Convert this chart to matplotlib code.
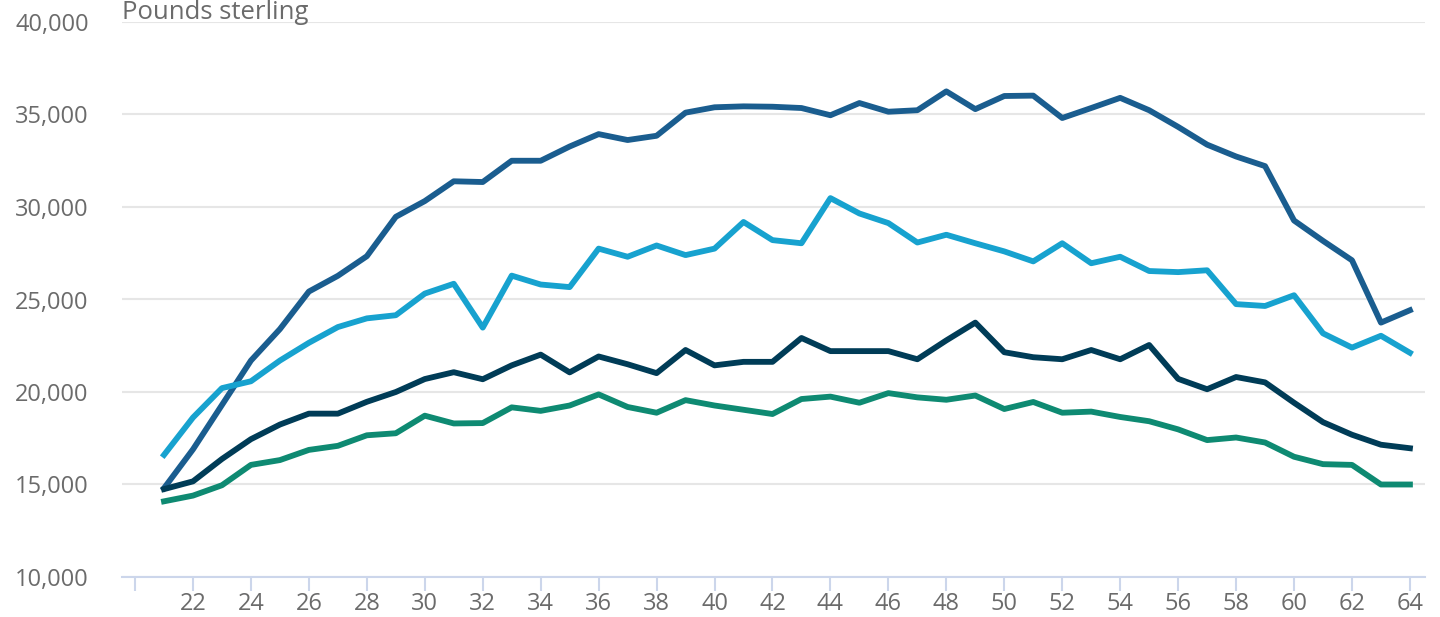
import matplotlib.pyplot as plt
from matplotlib.ticker import FuncFormatter

# Age in years
ages = list(range(21, 65))

# Four earnings series, pounds sterling
series_a = [14800, 16900, 19300, 21700, 23400, 25430, 26280, 27340, 29470, 30320,
            31390, 31350, 32500, 32500, 33270, 33940, 33620, 33850, 35100, 35390,
            35440, 35420, 35350, 34960, 35620, 35150, 35230, 36250, 35290, 36000,
            36020, 34810, 35350, 35900, 35230, 34330, 33370, 32730, 32210, 29270,
            28170, 27120, 23750, 24420]
series_b = [16600, 18620, 20210, 20580, 21700, 22660, 23510, 23980, 24150, 25320,
            25850, 23480, 26290, 25810, 25670, 27750, 27310, 27920, 27400, 27750,
            29190, 28210, 28040, 30480, 29650, 29130, 28080, 28500, 28040, 27600,
            27060, 28040, 26960, 27310, 26540, 26480, 26580, 24750, 24650, 25230,
            23170, 22400, 23040, 22120]
series_c = [14750, 15170, 16380, 17450, 18240, 18830, 18830, 19470, 20000, 20700,
            21070, 20690, 21440, 22020, 21060, 21920, 21500, 21020, 22270, 21440,
            21630, 21630, 22920, 22210, 22210, 22210, 21770, 22790, 23750, 22150,
            21880, 21770, 22270, 21770, 22540, 20710, 20150, 20810, 20520, 19420,
            18370, 17690, 17150, 16960]
series_d = [14090, 14400, 14960, 16060, 16320, 16870, 17090, 17660, 17770, 18720,
            18300, 18320, 19170, 18980, 19270, 19870, 19190, 18880, 19560, 19270,
            19040, 18810, 19620, 19750, 19420, 19940, 19710, 19580, 19810, 19080,
            19460, 18880, 18940, 18650, 18420, 17980, 17400, 17540, 17270, 16500,
            16100, 16060, 15000, 15000]

x_ticks = list(range(20, 65, 2))
x_labels = ['' if t == 20 else str(t) for t in x_ticks]
y_ticks = [10000, 15000, 20000, 25000, 30000, 35000, 40000]

label_color = '#6b6b6b'
plt.rcParams['font.family'] = ['Open Sans', 'DejaVu Sans']

fig = plt.figure(figsize=(14.4, 6.17), dpi=100)
ax = fig.add_axes([122 / 1440, 40 / 617, 1303 / 1440, 555 / 617])

ax.plot(ages, series_a, color='#1a5d8f', lw=4.2, solid_joinstyle='round', zorder=3)
ax.plot(ages, series_b, color='#17a2cf', lw=4.2, solid_joinstyle='round', zorder=3)
ax.plot(ages, series_c, color='#003c57', lw=4.2, solid_joinstyle='round', zorder=3)
ax.plot(ages, series_d, color='#0e8a72', lw=4.2, solid_joinstyle='round', zorder=3)

ax.set_xlim(19.55, 64.52)
ax.set_ylim(10000, 40000)
ax.set_xticks(x_ticks)
ax.set_xticklabels(x_labels)
ax.set_yticks(y_ticks)
ax.yaxis.set_major_formatter(FuncFormatter(lambda v, p: f'{int(v):,}'))

for s in ['top', 'right', 'left']:
    ax.spines[s].set_visible(False)
ax.spines['bottom'].set_color('#ccd6eb')
ax.spines['bottom'].set_linewidth(1.5)

ax.grid(axis='y', color='#e6e6e6', lw=1.5)
ax.set_axisbelow(True)

ax.tick_params(axis='x', direction='out', length=10, width=1.5, color='#ccd6eb',
               labelsize=17, labelcolor=label_color, pad=1)
ax.tick_params(axis='y', length=0, labelsize=17, labelcolor=label_color, pad=24)

# unit label above the plot, kept just inside the top edge
fig.text(122 / 1440, 1 - 19 / 617, 'Pounds sterling', fontsize=18.5,
         color=label_color, ha='left', va='baseline')

fig.savefig('out.png', dpi=100)
